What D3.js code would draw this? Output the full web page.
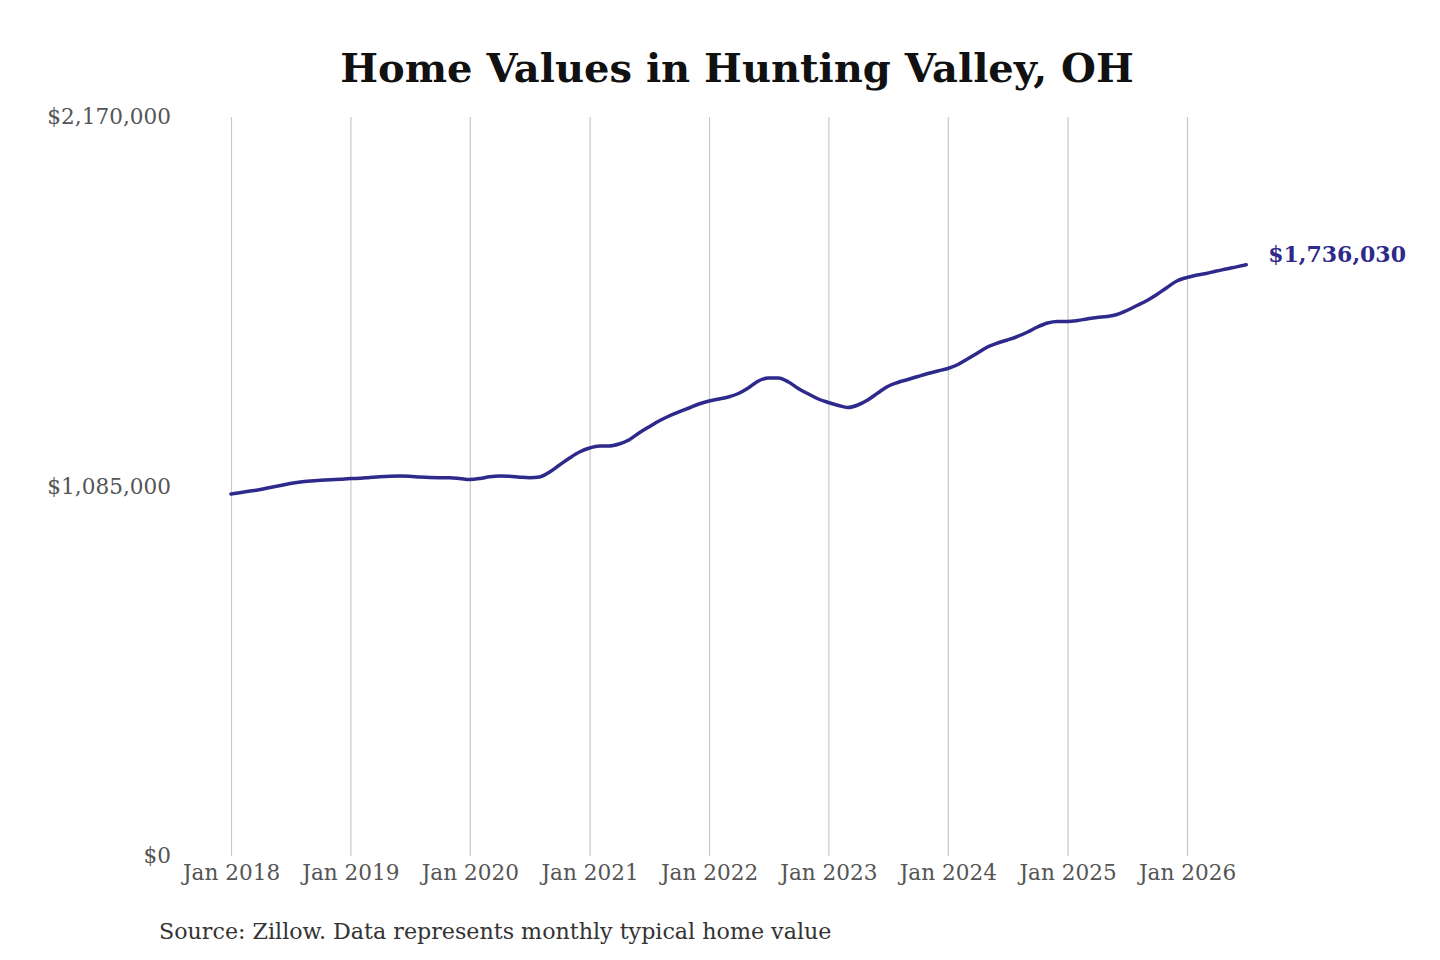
<!DOCTYPE html>
<html>
<head>
<meta charset="utf-8">
<script src="https://cdn.jsdelivr.net/npm/d3@7"></script>
<style>
  html, body { margin: 0; padding: 0; background: #fff; }
  svg { display: block; }
</style>
</head>
<body>
<svg id="chart" width="1440" height="960"></svg>
<script>
// ---- Data ----
const chartTitle = "Home Values in Hunting Valley, OH";
const sourceNote = "Source: Zillow. Data represents monthly typical home value";
const startMonth = "2018-01";   // first month of the series (monthly data)
const homeValues = [
  1063000, 1067400, 1071800, 1076200, 1082100, 1087900, 1093800, 1098200, 1101100, 1103200, 1105000, 1106400,
  1108500, 1109100, 1111400, 1113500, 1115000, 1115800, 1115000, 1112900, 1111400, 1110800, 1110600, 1108500,
  1105600, 1108500, 1113500, 1115800, 1115000, 1112300, 1110600, 1112900, 1127600, 1148100, 1168700, 1186300,
  1198100, 1203900, 1203900, 1209800, 1221500, 1242100, 1259700, 1277300, 1292000, 1303800, 1315500, 1327300,
  1336100, 1341900, 1347800, 1358100, 1374200, 1394800, 1403600, 1403600, 1391900, 1372800, 1356600, 1341900,
  1331700, 1322800, 1317000, 1324300, 1339000, 1359600, 1378600, 1390400, 1399200, 1408000, 1416800, 1424200,
  1431500, 1443200, 1459400, 1477000, 1494600, 1506400, 1515200, 1525500, 1538700, 1553400, 1565100, 1569500,
  1569500, 1572400, 1576900, 1581300, 1584200, 1590100, 1601800, 1616500, 1631200, 1648800, 1669300, 1688400,
  1698700, 1706100, 1710400, 1717800, 1723500, 1730000, 1736030
];
const xTickLabels = ["Jan 2018","Jan 2019","Jan 2020","Jan 2021","Jan 2022","Jan 2023","Jan 2024","Jan 2025","Jan 2026"];
const yTickValues = [0, 1085000, 2170000];
const endLabel = "$1,736,030";

// ---- Build ----
const parseMonth = d3.timeParse("%Y-%m");
const parseTick = d3.timeParse("%b %Y");
const start = parseMonth(startMonth);
const dates = homeValues.map((v, i) => d3.timeMonth.offset(start, i));
const series = homeValues.map((v, i) => ({ date: dates[i], value: v }));

const svg = d3.select("#chart");
const serif = "'DejaVu Serif', 'Liberation Serif', serif";

const x = d3.scaleTime()
  .domain([parseTick("Jan 2018"), parseTick("Jan 2026")])
  .range([231, 1187]);
const y = d3.scaleLinear()
  .domain([0, 2170000])
  .range([856, 117]);

// Title
svg.append("text")
  .attr("x", 737).attr("y", 82)
  .attr("text-anchor", "middle")
  .attr("font-family", serif)
  .attr("font-weight", "bold")
  .attr("font-size", 40)
  .attr("fill", "#111")
  .text(chartTitle);

// Vertical gridlines + x labels via axis
const xAxis = d3.axisBottom(x)
  .tickValues(xTickLabels.map(parseTick))
  .tickFormat(d3.timeFormat("%b %Y"))
  .tickSize(-(856 - 117))
  .tickPadding(5);
const gx = svg.append("g").attr("transform", "translate(0,856)").call(xAxis);
gx.select(".domain").remove();
gx.selectAll(".tick line").attr("stroke", "#c8c8c8").attr("stroke-width", 1.2);
gx.selectAll(".tick text")
  .attr("font-family", serif)
  .attr("font-size", 21.6)
  .attr("fill", "#555")
  .attr("dy", "0.9em");

// Y labels via axis
const yAxis = d3.axisLeft(y)
  .tickValues(yTickValues)
  .tickFormat(d => "$" + d3.format(",")(d))
  .tickSize(0)
  .tickPadding(0);
const gy = svg.append("g").attr("transform", "translate(171,0)").call(yAxis);
gy.select(".domain").remove();
gy.selectAll(".tick text")
  .attr("font-family", serif)
  .attr("font-size", 21.6)
  .attr("fill", "#555");

// Line
const line = d3.line()
  .x(d => x(d.date))
  .y(d => y(d.value))
  .curve(d3.curveMonotoneX);
svg.append("path")
  .datum(series)
  .attr("d", line)
  .attr("fill", "none")
  .attr("stroke", "#2e2a8c")
  .attr("stroke-width", 3.5)
  .attr("stroke-linejoin", "round")
  .attr("stroke-linecap", "round");

// End label
const last = series[series.length - 1];
svg.append("text")
  .attr("x", x(last.date) + 22)
  .attr("y", y(last.value) - 10)
  .attr("dy", "0.35em")
  .attr("font-family", serif)
  .attr("font-weight", "bold")
  .attr("font-size", 22)
  .attr("fill", "#2e2a8c")
  .text(endLabel);

// Source
svg.append("text")
  .attr("x", 159).attr("y", 939)
  .attr("font-family", serif)
  .attr("font-size", 22.2)
  .attr("fill", "#333")
  .text(sourceNote);
</script>
</body>
</html>
